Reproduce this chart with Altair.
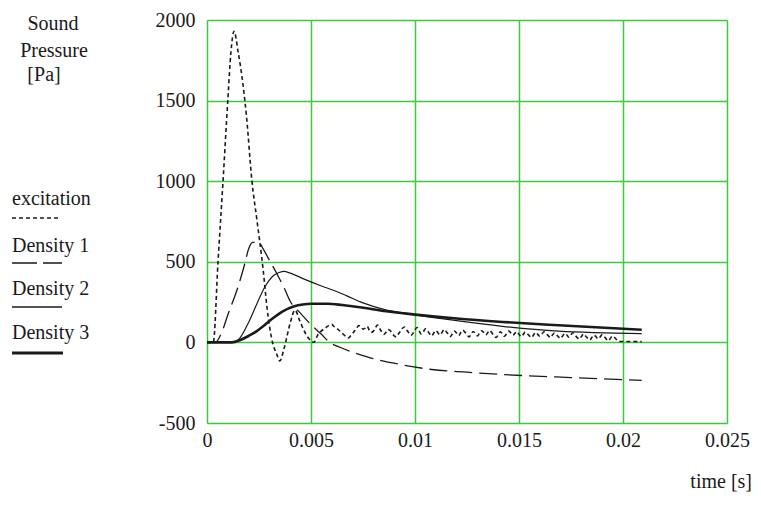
import altair as alt
import pandas as pd

# ---------------- data ----------------
# excitation (short-dashed): main pulse
exc_t = [0, 0.0003, 0.00053, 0.00077, 0.001, 0.00115, 0.0013, 0.0015, 0.00173, 0.0019,
         0.00216, 0.0024, 0.0027, 0.0029, 0.0031, 0.00337, 0.0035, 0.0037, 0.004, 0.00423,
         0.00447, 0.00476, 0.005, 0.00514, 0.0053, 0.0057]
exc_p = [0, 0, 500, 1000, 1500, 1800, 1930, 1800, 1600, 1400,
         1000, 760, 450, 200, 30, -80, -115, -40, 120, 200,
         130, 50, 10, 0, 40, 90]
# excitation: noisy tail, sampled every 0.0001 s from 0.006 s to 0.0196 s
exc_noise = [112, 100, 92, 80, 70, 58, 45, 35, 28, 40,
             55, 72, 90, 104, 95, 82, 88, 100, 76, 62,
             70, 92, 108, 86, 66, 50, 62, 80, 74, 58,
             40, 34, 52, 70, 88, 96, 78, 60, 44, 56,
             78, 92, 70, 52, 66, 84, 72, 54, 40, 58,
             74, 60, 46, 62, 80, 68, 50, 36, 54, 70,
             58, 42, 60, 76, 64, 48, 34, 52, 68, 56,
             40, 56, 72, 62, 46, 60, 74, 58, 42, 30,
             48, 66, 54, 38, 52, 70, 60, 44, 56, 68,
             50, 36, 48, 64, 54, 40, 30, 46, 62, 50,
             38, 52, 66, 56, 42, 30, 44, 58, 48, 34,
             24, 40, 56, 46, 32, 48, 60, 44, 30, 20,
             36, 52, 40, 26, 14, 30, 46, 36, 22, 34,
             48, 36, 20, 10, 26, 40, 30]
exc_tail_t = [0.0198, 0.0209]
exc_tail_p = [6, 5]

d1_t = [0, 0.0004, 0.0007, 0.001, 0.0015, 0.0018, 0.002, 0.0022, 0.0025, 0.0027,
        0.003, 0.0033, 0.0037, 0.004, 0.0045, 0.005, 0.0055, 0.0059, 0.0064, 0.0077,
        0.0093, 0.0108, 0.0125, 0.0142, 0.0175, 0.0209]
d1_p = [0, 0, 60, 170, 348, 480, 580, 620, 620, 580,
        510, 440, 340, 255, 180, 110, 50, 0, -30, -90,
        -137, -168, -185, -199, -218, -235]

d2_t = [0, 0.00125, 0.0016, 0.002, 0.0024, 0.0028, 0.0032, 0.0035, 0.0037, 0.004,
        0.0047, 0.0055, 0.0062, 0.0067, 0.0075, 0.0085, 0.0099, 0.012, 0.0142, 0.0169,
        0.0209]
d2_p = [0, 0, 30, 124, 240, 348, 415, 435, 440, 430,
        391, 350, 317, 290, 245, 205, 174, 135, 100, 70,
        55]

d3_t = [0, 0.0012, 0.0016, 0.002, 0.0023, 0.0027, 0.0031, 0.0036, 0.0042, 0.0046,
        0.005, 0.0058, 0.0065, 0.0075, 0.0085, 0.0099, 0.012, 0.0142, 0.0169, 0.0209]
d3_p = [0, 0, 15, 40, 62, 100, 143, 190, 224, 235,
        240, 240, 232, 215, 195, 174, 148, 127, 106, 78]

x_ticks = [0, 0.005, 0.01, 0.015, 0.02, 0.025]
y_ticks = [-500, 0, 500, 1000, 1500, 2000]

# ---------------- build tables ----------------
noise_t = [round(0.006 + 0.0001 * i, 5) for i in range(len(exc_noise))]
exc_df = pd.DataFrame({"t": exc_t + noise_t + exc_tail_t,
                       "p": exc_p + exc_noise + exc_tail_p})
d1_df = pd.DataFrame({"t": d1_t, "p": d1_p})
d2_df = pd.DataFrame({"t": d2_t, "p": d2_p})
d3_df = pd.DataFrame({"t": d3_t, "p": d3_p})

GREEN = "#3dc83d"
FONT = "Liberation Serif"
INK = "#1a1a1a"

xenc = alt.X("t:Q",
             scale=alt.Scale(domain=[0, 0.025], nice=False, zero=False),
             axis=alt.Axis(values=x_ticks, labelExpr="'' + datum.value", title=None,
                           grid=True, gridColor=GREEN, gridWidth=1.5, domain=False,
                           ticks=False, labelPadding=7, labelFontSize=20,
                           labelFont=FONT, labelColor=INK, labelFlush=False))
yenc = alt.Y("p:Q",
             scale=alt.Scale(domain=[-500, 2000], nice=False, zero=False),
             axis=alt.Axis(values=y_ticks, labelExpr="'' + datum.value", title=None,
                           grid=True, gridColor=GREEN, gridWidth=1.5, domain=False,
                           ticks=False, labelPadding=12, labelFontSize=20,
                           labelFont=FONT, labelColor=INK, labelFlush=False))

exc = alt.Chart(exc_df).mark_line(color=INK, strokeWidth=1.6, strokeDash=[4, 3],
                                  interpolate="monotone").encode(x=xenc, y=yenc)
d1 = alt.Chart(d1_df).mark_line(color=INK, strokeWidth=1.3, strokeDash=[18, 7],
                                interpolate="monotone").encode(x="t:Q", y="p:Q")
d2 = alt.Chart(d2_df).mark_line(color=INK, strokeWidth=1.2,
                                interpolate="monotone").encode(x="t:Q", y="p:Q")
d3 = alt.Chart(d3_df).mark_line(color=INK, strokeWidth=2.6,
                                interpolate="monotone").encode(x="t:Q", y="p:Q")

one = pd.DataFrame({"k": [0]})


def txt(s, x, y, align="left"):
    return alt.Chart(one).mark_text(text=s, align=align, baseline="alphabetic",
                                    font=FONT, fontSize=20, color=INK).encode(
        x=alt.value(x), y=alt.value(y))


def rule(x1, x2, y, width, dash=None):
    kw = dict(color=INK, strokeWidth=width)
    if dash:
        kw["strokeDash"] = dash
    return alt.Chart(one).mark_rule(**kw).encode(
        x=alt.value(x1), x2=alt.value(x2), y=alt.value(y))


# plot origin is at page (207, 20)
OX, OY = 207, 20
labels = [
    txt("Sound", 53 - OX, 30 - OY, "center"),
    txt("Pressure", 54 - OX, 57 - OY, "center"),
    txt("[Pa]", 44 - OX, 81 - OY, "center"),
    txt("excitation", 12 - OX, 205 - OY),
    txt("Density 1", 12 - OX, 252 - OY),
    txt("Density 2", 12 - OX, 295 - OY),
    txt("Density 3", 12 - OX, 339 - OY),
    txt("time [s]", 752 - OX, 488 - OY, "right"),
    rule(12 - OX, 61 - OX, 218 - OY, 1.5, [4, 3]),
    rule(12 - OX, 62 - OX, 263 - OY, 1.5, [25, 6]),
    rule(12 - OX, 62 - OX, 307 - OY, 1.3),
    rule(12 - OX, 63 - OX, 353 - OY, 3),
]

chart = alt.layer(exc, d1, d2, d3, *labels).properties(
    width=520, height=403,
    autosize=alt.AutoSizeParams(type="none"),
    padding={"left": 199, "top": 12, "right": 26, "bottom": 70},
).configure_view(stroke=GREEN, strokeWidth=1.5).configure(background="white")

chart.save("out.html", embed_options={"renderer": "svg", "actions": False})
